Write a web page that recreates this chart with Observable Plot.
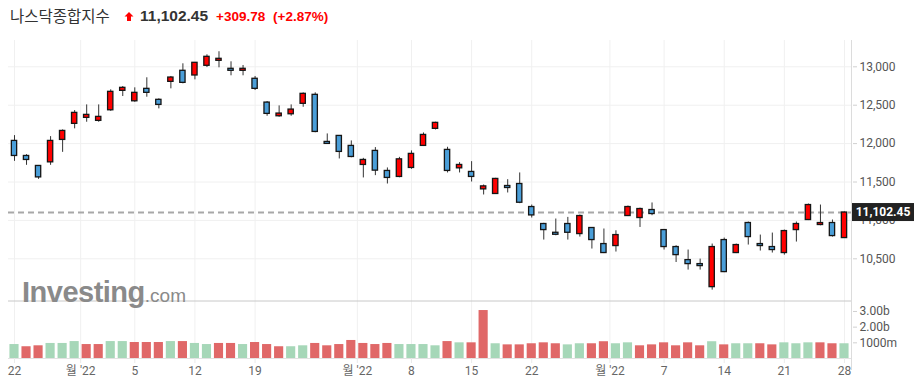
<!DOCTYPE html>
<html><head><meta charset="utf-8">
<script src="https://cdn.jsdelivr.net/npm/d3@7"></script>
<script src="https://cdn.jsdelivr.net/npm/@observablehq/plot@0.6"></script>
<style>
body{margin:0;background:#fff;}
#wrap{position:relative;width:916px;height:388px;overflow:hidden;background:#fff;}
#price{position:absolute;left:0;top:34px;}
#vol{position:absolute;left:0;top:300px;}
#overlay{position:absolute;left:0;top:0;pointer-events:none;}
</style></head>
<body><div id="wrap"><div id="price"></div><div id="vol"></div></div>
<script>
const dates = [
"2022-07-22","2022-07-25","2022-07-26","2022-07-27","2022-07-28","2022-07-29",
"2022-08-01","2022-08-02","2022-08-03","2022-08-04","2022-08-05",
"2022-08-08","2022-08-09","2022-08-10","2022-08-11","2022-08-12",
"2022-08-15","2022-08-16","2022-08-17","2022-08-18","2022-08-19",
"2022-08-22","2022-08-23","2022-08-24","2022-08-25","2022-08-26",
"2022-08-29","2022-08-30","2022-08-31","2022-09-01","2022-09-02",
"2022-09-06","2022-09-07","2022-09-08","2022-09-09",
"2022-09-12","2022-09-13","2022-09-14","2022-09-15","2022-09-16",
"2022-09-19","2022-09-20","2022-09-21","2022-09-22","2022-09-23",
"2022-09-26","2022-09-27","2022-09-28","2022-09-29","2022-09-30",
"2022-10-03","2022-10-04","2022-10-05","2022-10-06","2022-10-07",
"2022-10-10","2022-10-11","2022-10-12","2022-10-13","2022-10-14",
"2022-10-17","2022-10-18","2022-10-19","2022-10-20","2022-10-21",
"2022-10-24","2022-10-25","2022-10-26","2022-10-27","2022-10-28"];
const open  = [12035,11839,11709,11756,12048,12257,12335,12296,12434,12687,12551,12713,12570,12804,12948,12887,13013,13078,12974,12948,12844,12534,12356,12382,12518,12635,12022,12100,11970,11722,11905,11644,11566,11683,11970,12192,11918,11678,11631,11404,11344,11448,11474,11174,10953,10839,10953,10822,10901,10692,10666,11057,11031,11135,10874,10653,10483,10431,10131,10744,10575,10966,10692,10653,10575,10874,11005,10940,10966,10770];
const high  = [12104,11856,11715,12091,12178,12430,12504,12504,12700,12743,12726,12857,12583,12874,13039,13052,13156,13196,13065,13017,12874,12548,12491,12504,12660,12661,12126,12105,12035,11808,11948,11683,11821,11905,12139,12278,11952,11752,11765,11461,11548,11530,11618,11200,10962,11018,11039,11070,10906,10888,10865,11187,11160,11227,10882,10670,10614,10496,10692,10770,10692,10979,10809,10835,10874,10979,11213,11200,11005,11110];
const low   = [11769,11717,11534,11717,11886,12192,12278,12278,12420,12613,12538,12604,12452,12713,12778,12830,12990,12987,12883,12883,12691,12356,12343,12356,12473,12141,11990,11800,11815,11553,11583,11474,11555,11665,11962,12178,11618,11618,11500,11331,11338,11357,11218,11031,10744,10800,10744,10783,10627,10568,10588,11050,10908,11061,10614,10452,10353,10353,10092,10320,10568,10679,10601,10575,10548,10718,10998,10930,10783,10765];
const close = [11839,11787,11560,12035,12165,12400,12374,12348,12674,12726,12661,12661,12504,12860,12791,13052,13130,13104,12948,12974,12713,12387,12391,12443,12648,12152,11996,11892,11826,11787,11648,11553,11795,11866,12113,12270,11644,11722,11566,11443,11540,11422,11230,11065,10874,10813,10839,11057,10744,10575,10809,11174,11148,11083,10653,10548,10431,10405,10653,10327,10679,10783,10666,10614,10861,10953,11200,10966,10796,11102.45];
// volume in billions
const volume = [0.89,0.75,0.81,0.96,0.96,1.08,0.89,0.89,1.08,1.08,1.02,1.02,1.02,1.08,1.08,0.96,0.89,0.96,0.96,0.89,1.02,0.89,0.75,0.75,0.81,0.96,0.81,0.89,1.15,0.96,0.89,0.96,0.89,0.89,0.89,0.81,1.08,1.00,1.00,3.06,0.94,0.87,0.87,0.94,1.00,0.94,0.87,0.94,0.94,1.07,0.94,1.00,0.81,0.87,1.00,0.81,1.00,0.81,1.07,0.87,0.94,0.94,0.94,0.87,1.00,0.94,1.00,1.00,0.94,0.94];
const volDir = ["g","r","r","g","g","g","r","r","g","g","r","r","r","g","r","g","g","r","r","g","r","r","r","g","g","r","r","r","r","r","r","r","g","g","g","g","r","g","r","r","g","r","r","r","r","r","g","g","r","r","g","g","r","r","r","r","r","r","g","r","g","g","r","r","g","g","g","r","r","g"];
const priceTicks = [10500,11000,11500,12000,12500,13000];
const volTicks = [1e9,2e9,3e9];
const volTickLabels = ["1000m","2.00b","3.00b"];
const tickDates = ["2022-07-22","2022-08-01","2022-08-05","2022-08-12","2022-08-19","2022-09-01","2022-09-08","2022-09-15","2022-09-22","2022-10-03","2022-10-07","2022-10-14","2022-10-21","2022-10-28"];
const tickLabels = ["22","월 '22","5","12","19","월 '22","8","15","22","월 '22","7","14","21","28"];
const titleName = "나스닥종합지수";
const lastPrice = close[close.length-1];
const change = 309.78;
const changePct = 2.87;

const UP = "#ff0000", DOWN = "#4a9ed8", VG = "#a6d7b8", VR = "#e06868";
const data = dates.map((d,i)=>({i, date:d, o:open[i], h:high[i], l:low[i], c:close[i], v:volume[i]*1e9, vd:volDir[i]}));
const tickPos = tickDates.map((d,k)=>dates.indexOf(d) - (tickLabels[k].includes("월") ? 0.5 : 0));
const labelMap = new Map(tickPos.map((p,k)=>[p,tickLabels[k]]));
const FONT = "Roboto, 'Noto Sans CJK KR', sans-serif";

const pricePlot = Plot.plot({
  width:916, height:266, marginLeft:8, marginRight:64, marginTop:6, marginBottom:0,
  style:{fontFamily:FONT, fontSize:"12px", background:"transparent", overflow:"visible"},
  x: {type:"linear", domain:[0, dates.length-1], range:[14, 844], axis:null},
  y: {domain:[10500,13000], range:[224.3,32.3], label:null},
  color: {type:"identity"},
  marks:[
    Plot.gridY({ticks:priceTicks, stroke:"#f0f0f0", strokeOpacity:1}),
    Plot.gridX({ticks:tickPos, stroke:"#f0f0f0", strokeOpacity:1}),
    Plot.ruleY([lastPrice], {stroke:"#a8a8a8", strokeWidth:2, strokeDasharray:"6,4"}),
    Plot.ruleX(data, {x:"i", y1:"l", y2:"h", stroke:"#333", strokeWidth:1}),
    Plot.rect(data, {x1:d=>d.i-0.22, x2:d=>d.i+0.22, y1:"o", y2:"c", fill:d=>d.c>=d.o?UP:DOWN, stroke:"#151515", strokeWidth:1.3}),
    Plot.axisY({anchor:"right", label:null, ticks:priceTicks, tickFormat:d3.format(","), tickSize:4, tickPadding:3, fontSize:12, fill:"#555", stroke:"#d0d0d0"})
  ]
});
document.getElementById("price").appendChild(pricePlot);

const volPlot = Plot.plot({
  width:916, height:88, marginLeft:8, marginRight:64, marginTop:0, marginBottom:30,
  style:{fontFamily:FONT, fontSize:"12px", background:"transparent", overflow:"visible"},
  x: {type:"linear", domain:[0, dates.length-1], range:[14, 844], label:null},
  y: {domain:[0,3.7e9], label:null},
  color: {type:"identity"},
  marks:[
    Plot.gridX({ticks:tickPos, stroke:"#f0f0f0", strokeOpacity:1}),
    Plot.rect(data, {x1:d=>d.i-0.38, x2:d=>d.i+0.38, y1:0, y2:"v", fill:d=>d.vd==="g"?VG:VR}),
    Plot.ruleY([0], {stroke:"#e2e2e2"}),
    Plot.ruleY([3.7e9], {stroke:"#c8c8c8", dy:0.5}),
    Plot.axisY({anchor:"right", label:null, ticks:volTicks, tickFormat:v=>volTickLabels[volTicks.indexOf(v)], tickSize:4, tickPadding:3, fontSize:12, fill:"#555", stroke:"#d0d0d0"}),
    Plot.axisX({label:null, ticks:tickPos, tickFormat:p=>labelMap.get(p), tickSize:5, tickPadding:3, fontSize:12, fill:"#666", stroke:"#eaeaea"})
  ]
});
document.getElementById("vol").appendChild(volPlot);

// price label box on the right axis, positioned with Plot's y scale
const yS = pricePlot.scale("y");
const yy = 34 + yS.apply(lastPrice);
const ov = d3.select("#wrap").append("svg").attr("id","overlay").attr("width",916).attr("height",388);
ov.append("line").attr("x1",851.5).attr("x2",851.5).attr("y1",40).attr("y2",370).attr("stroke","#dcdcdc");
ov.append("rect").attr("x",852).attr("y",yy-9).attr("width",62).attr("height",18).attr("fill","#222");
ov.append("text").attr("x",883).attr("y",yy).attr("dy","0.36em").attr("text-anchor","middle")
  .attr("font-family","Roboto, sans-serif").attr("font-weight","bold").attr("font-size",12).attr("fill","#fff")
  .text(d3.format(",.2f")(lastPrice));
// header
ov.append("text").attr("x",10).attr("y",21.5).attr("font-family","'Noto Sans CJK KR', sans-serif").attr("font-size",15.5).attr("fill","#333").text(titleName);
ov.append("polygon").attr("points","129,12 133.5,16.5 131,16.5 131,21 127,21 127,16.5 124.5,16.5").attr("fill","#f00");
ov.append("text").attr("x",140).attr("y",21).attr("font-family","'Liberation Sans', Arial, sans-serif").attr("font-weight","bold").attr("font-size",15.5).attr("fill","#333").text(d3.format(",.2f")(lastPrice));
ov.append("text").attr("x",216).attr("y",21).attr("font-family","'Liberation Sans', Arial, sans-serif").attr("font-weight","bold").attr("font-size",13.5).attr("fill","#f00").text("+" + d3.format(".2f")(change));
ov.append("text").attr("x",273).attr("y",21).attr("font-family","'Liberation Sans', Arial, sans-serif").attr("font-weight","bold").attr("font-size",13.5).attr("fill","#f00").text("(+" + d3.format(".2f")(changePct) + "%)");
// watermark
const wm = ov.append("text").attr("x",22).attr("y",302).attr("font-family","'Liberation Sans', Arial, sans-serif").attr("fill","#8a8a8a");
wm.append("tspan").attr("font-weight","bold").attr("font-size",29).attr("letter-spacing",-0.5).text("Investing");
wm.append("tspan").attr("font-size",19).text(".com");
</script>
</body></html>
